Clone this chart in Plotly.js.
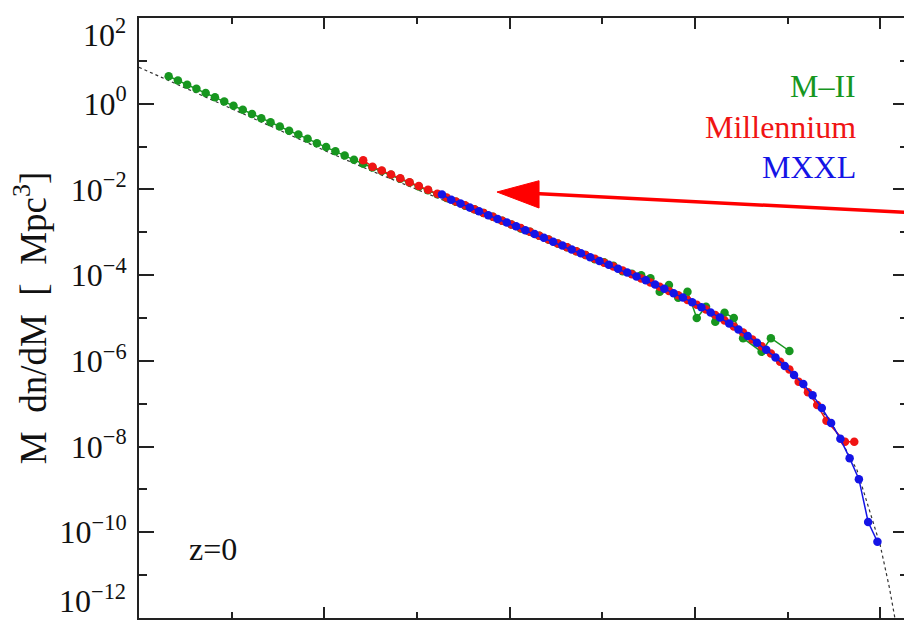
<!DOCTYPE html>
<html>
<head>
<meta charset="utf-8">
<script src="https://cdn.plot.ly/plotly-3.0.1.min.js"></script>
<style>
  html, body { margin: 0; padding: 0; overflow: hidden; background: #fff; }
  #chart { width: 908px; height: 626px; }
</style>
</head>
<body>
<div id="chart"></div>
<script>
// ---- data (log10 of mass [Msun/h] and log10 of M dn/dM [Mpc^-3]) ----
const greenLogM = [8.32, 8.42, 8.52, 8.62, 8.72, 8.82, 8.92, 9.02, 9.12, 9.22,
  9.32, 9.42, 9.52, 9.62, 9.72, 9.82, 9.92, 10.02, 10.12, 10.22,
  10.32, 10.42, 10.52, 10.62, 10.72, 10.82, 10.92, 11.02, 11.12, 11.22,
  11.32, 11.42, 11.52, 11.62, 11.72, 11.82, 11.92, 12.02, 12.12, 12.22,
  12.32, 12.42, 12.52, 12.62, 12.72, 12.82, 12.92, 13.02, 13.12, 13.22,
  13.32, 13.42, 13.52, 13.62, 13.72, 13.82, 13.92, 14.02, 14.12, 14.22,
  14.32, 14.42, 14.52, 14.72, 14.82, 15.02];
const greenLogY = [0.64, 0.54, 0.44, 0.35, 0.25, 0.15, 0.05, -0.05, -0.14, -0.24,
  -0.34, -0.43, -0.53, -0.63, -0.72, -0.82, -0.92, -1.01, -1.11, -1.21,
  -1.31, -1.40, -1.49, -1.57, -1.66, -1.75, -1.84, -1.93, -2.02, -2.11,
  -2.20, -2.29, -2.38, -2.46, -2.55, -2.64, -2.73, -2.82, -2.91, -2.99,
  -3.08, -3.17, -3.26, -3.35, -3.44, -3.53, -3.63, -3.70, -3.78, -3.91,
  -3.97, -4.00, -4.07, -4.39, -4.23, -4.53, -4.39, -5.00, -4.74, -5.09,
  -4.88, -5.00, -5.47, -5.79, -5.47, -5.77];

const redLogM = [10.42, 10.52, 10.62, 10.72, 10.82, 10.92, 11.02, 11.12, 11.22,
  11.32, 11.42, 11.52, 11.62, 11.72, 11.82, 11.92, 12.02, 12.12, 12.22,
  12.32, 12.42, 12.52, 12.62, 12.72, 12.82, 12.92, 13.02, 13.12, 13.22,
  13.32, 13.42, 13.52, 13.62, 13.72, 13.82, 13.92, 14.02, 14.12, 14.22,
  14.32, 14.42, 14.52, 14.62, 14.72, 14.82, 14.92, 15.02, 15.12, 15.22,
  15.32, 15.42, 15.62, 15.72];
const redLogY = [-1.32, -1.47, -1.56, -1.65, -1.74, -1.83, -1.92, -2.01, -2.10,
  -2.19, -2.28, -2.37, -2.46, -2.55, -2.64, -2.73, -2.82, -2.90, -2.99,
  -3.08, -3.17, -3.26, -3.35, -3.44, -3.53, -3.62, -3.71, -3.80, -3.89,
  -3.98, -4.08, -4.17, -4.27, -4.37, -4.47, -4.58, -4.69, -4.80, -4.93,
  -5.06, -5.20, -5.34, -5.50, -5.66, -5.83, -6.02, -6.20, -6.49, -6.73,
  -7.03, -7.40, -7.89, -7.89];

const blueLogM = [11.27, 11.37, 11.47, 11.57, 11.67, 11.77, 11.87, 11.97, 12.07, 12.17,
  12.27, 12.37, 12.47, 12.57, 12.67, 12.77, 12.87, 12.97, 13.07, 13.17,
  13.27, 13.37, 13.47, 13.57, 13.67, 13.77, 13.87, 13.97, 14.07, 14.17,
  14.27, 14.37, 14.47, 14.57, 14.67, 14.77, 14.87, 14.97, 15.07, 15.17,
  15.27, 15.37, 15.47, 15.57, 15.67, 15.77, 15.87, 15.97];
const blueLogY = [-2.12, -2.24, -2.33, -2.42, -2.51, -2.60, -2.69, -2.77, -2.86, -2.95,
  -3.04, -3.13, -3.22, -3.31, -3.40, -3.49, -3.58, -3.67, -3.76, -3.85,
  -3.94, -4.03, -4.12, -4.22, -4.32, -4.42, -4.52, -4.63, -4.75, -4.87,
  -4.99, -5.13, -5.27, -5.42, -5.58, -5.74, -5.92, -6.12, -6.33, -6.54,
  -6.80, -7.10, -7.45, -7.82, -8.27, -8.76, -9.76, -10.22];

const fitLogM = [8.0, 8.5, 9.0, 9.5, 10.0, 10.5, 11.0, 11.5, 12.0, 12.5, 13.0, 13.5,
  14.0, 14.5, 15.0, 15.25, 15.5, 15.75, 16.0, 16.1, 16.2, 16.3];
const fitLogY = [0.85, 0.37, -0.12, -0.60, -1.09, -1.56, -2.00, -2.44, -2.88, -3.32, -3.76, -4.20,
  -4.70, -5.33, -6.20, -6.80, -7.55, -8.55, -10.3, -11.3, -12.5, -13.8];

const seriesNames = ["M\u2013II", "Millennium", "MXXL"];
const seriesColors = ["#17961f", "#f01414", "#1414e6"];
const yTickExp = [2, 0, -2, -4, -6, -8, -10, -12];
const yMinorExp = [1, -1, -3, -5, -7, -9, -11];
const xTickExp = [8, 10, 12, 14, 16];
const xMinorExp = [9, 11, 13, 15];
const panelLabel = "z=0";
const yTitle = "M  dn/dM  [  Mpc<sup>3</sup>]";

// ---- build ----
const p10 = v => Math.pow(10, v);
const serif = "Liberation Serif, DejaVu Serif, Times New Roman, serif";
const expLabel = e => "10<sup>" + (e < 0 ? "\u2212" + (-e) : e) + "</sup>";
const yMax = yTickExp[0], yMin = yTickExp[yTickExp.length - 1];

function pts(name, lx, ly, color) {
  return {
    type: "scatter", mode: "lines+markers", name: name,
    x: lx.map(p10), y: ly.map(p10),
    line: {color: color, width: 1.5},
    marker: {color: color, size: 8.5, line: {width: 0}},
    showlegend: false
  };
}

const traces = [
  {type: "scatter", mode: "lines", x: fitLogM.map(p10), y: fitLogY.map(p10),
   line: {color: "#333", width: 1.2, dash: "dot"}, showlegend: false},
  pts(seriesNames[0], greenLogM, greenLogY, seriesColors[0]),
  pts(seriesNames[1], redLogM, redLogY, seriesColors[1]),
  pts(seriesNames[2], blueLogM, blueLogY, seriesColors[2])
];

const axisCol = "#222";
const tickFont = {family: serif, size: 32, color: "#111"};
const layout = {
  width: 908, height: 626,
  margin: {l: 139, r: 0, t: 18, b: 8},
  paper_bgcolor: "#fff", plot_bgcolor: "#fff",
  showlegend: false,
  xaxis: {
    type: "log", range: [8, 16.30],
    showline: true, linewidth: 2, linecolor: axisCol, mirror: "ticks",
    ticks: "inside", ticklen: 11, tickwidth: 2, tickcolor: axisCol,
    tickmode: "array", tickvals: xTickExp.map(p10), showticklabels: false,
    minor: {tickmode: "array", tickvals: xMinorExp.map(p10), ticks: "inside", ticklen: 6, tickwidth: 2, tickcolor: axisCol, showgrid: false},
    showgrid: false, zeroline: false
  },
  yaxis: {
    type: "log", range: [yMin, yMax],
    showline: true, linewidth: 2, linecolor: axisCol, mirror: "ticks",
    ticks: "inside", ticklen: 15, tickwidth: 2, tickcolor: axisCol,
    tickmode: "array", tickvals: yTickExp.map(p10),
    // the two end labels are placed inside the frame (as in the reference) via annotations
    ticktext: yTickExp.map(e => (e === yMax || e === yMin) ? "" : expLabel(e)),
    tickfont: tickFont,
    ticklabelstandoff: 4,
    minor: {tickmode: "array", tickvals: yMinorExp.map(p10), ticks: "inside", ticklen: 8, tickwidth: 2, tickcolor: axisCol, showgrid: false},
    showgrid: false, zeroline: false,
    title: {text: yTitle, font: {family: serif, size: 37, color: "#111"}, standoff: 2}
  },
  annotations: [
    {xref: "paper", yref: "paper", x: -0.0143, y: 0.975, xanchor: "right", yanchor: "middle",
     text: expLabel(yMax), showarrow: false, font: tickFont},
    {xref: "paper", yref: "paper", x: -0.0143, y: 0.032, xanchor: "right", yanchor: "middle",
     text: expLabel(yMin), showarrow: false, font: tickFont},
    {xref: "paper", yref: "paper", x: 0.935, y: 0.886, xanchor: "right", yanchor: "middle",
     text: seriesNames[0], showarrow: false, font: {family: serif, size: 32, color: seriesColors[0]}},
    {xref: "paper", yref: "paper", x: 0.935, y: 0.819, xanchor: "right", yanchor: "middle",
     text: seriesNames[1], showarrow: false, font: {family: serif, size: 32, color: seriesColors[1]}},
    {xref: "paper", yref: "paper", x: 0.935, y: 0.752, xanchor: "right", yanchor: "middle",
     text: seriesNames[2], showarrow: false, font: {family: serif, size: 32, color: seriesColors[2]}},
    {xref: "paper", yref: "paper", x: 0.0624, y: 0.115, xanchor: "left", yanchor: "middle",
     text: panelLabel, showarrow: false, font: {family: serif, size: 32, color: "#111"}}
  ],
  shapes: [
    {type: "line", xref: "paper", yref: "paper", x0: 0.515, y0: 0.7075, x1: 1.0, y1: 0.6758,
     line: {color: "#f00", width: 3.5}, layer: "above"},
    {type: "path", xref: "paper", yref: "paper",
     path: "M0.4655,0.710 L0.5202,0.7288 L0.5202,0.6833 Z",
     fillcolor: "#f00", line: {color: "#f00", width: 1}, layer: "above"}
  ]
};

Plotly.newPlot("chart", traces, layout, {staticPlot: true, displayModeBar: false});
</script>
</body>
</html>
